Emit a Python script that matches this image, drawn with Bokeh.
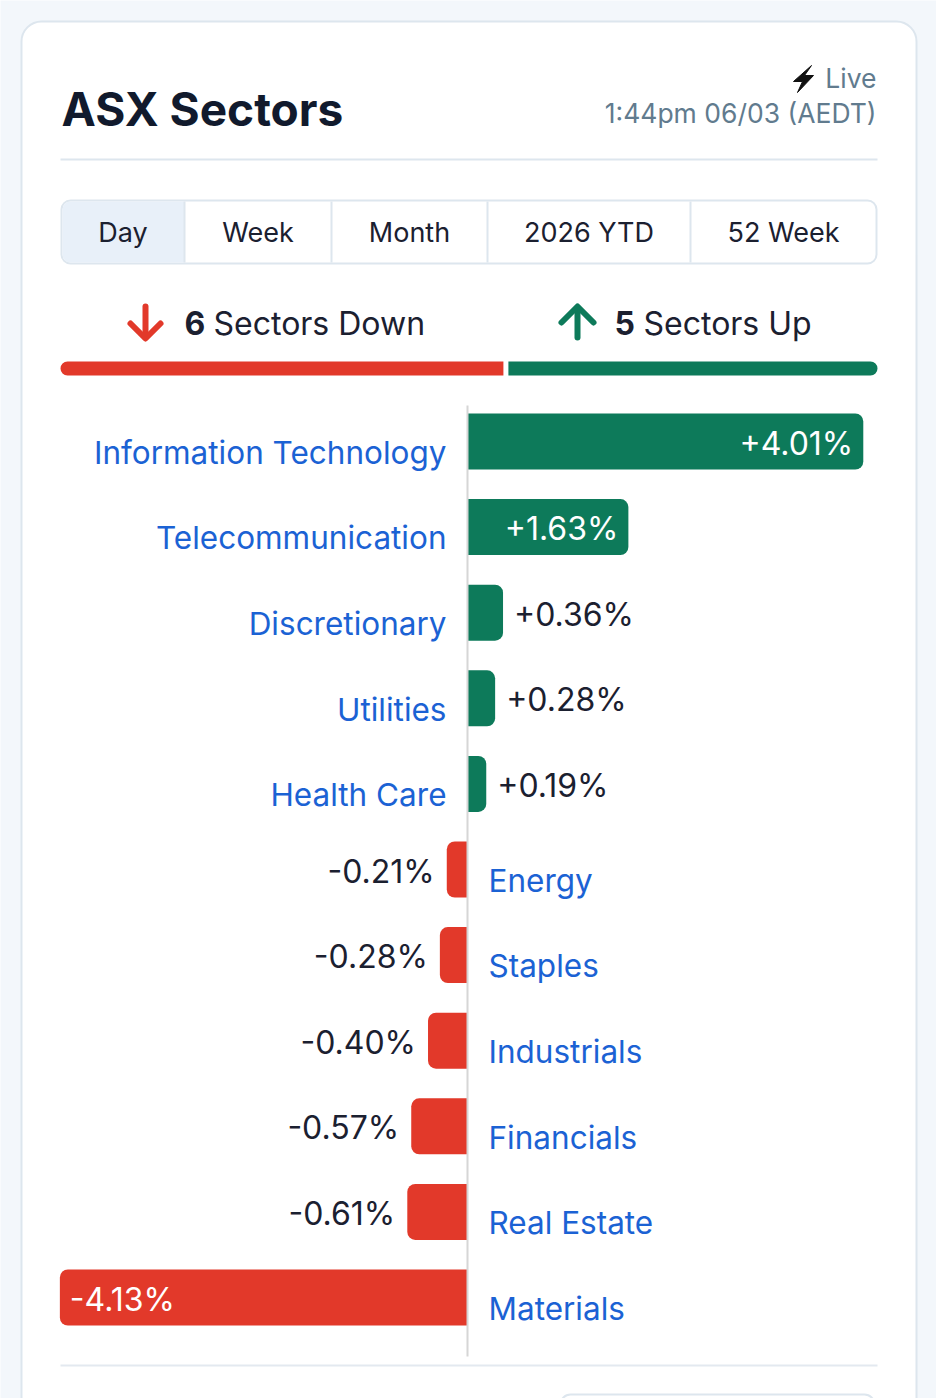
from bokeh.plotting import figure
from bokeh.models import Range1d, ColumnDataSource
from bokeh.embed import file_html
from bokeh.resources import INLINE
from bokeh.core.properties import value

# ---------------- data ----------------
title = "ASX Sectors"
live_label = "Live"
timestamp = "1:44pm 06/03 (AEDT)"
tabs = ["Day", "Week", "Month", "2026 YTD", "52 Week"]
active_tab = "Day"
sectors = ["Information Technology", "Telecommunication", "Discretionary",
           "Utilities", "Health Care", "Energy", "Staples", "Industrials",
           "Financials", "Real Estate", "Materials"]
changes = [4.01, 1.63, 0.36, 0.28, 0.19, -0.21, -0.28, -0.40, -0.57, -0.61, -4.13]

# ---------------- style ----------------
FONT = "Inter"
BG = "#f3f7fb"
BORDER = "#dde6ee"
GREEN = "#0d7a5a"
RED = "#e2392a"
BLUE = "#1b62d4"
DARK = "#1b2030"
TITLE_C = "#111a2d"
GREY = "#617b8e"
K = 0.42   # baseline correction (fraction of font size)

W, H = 936, 1398
p = figure(width=W, height=H, x_range=Range1d(0, W), y_range=Range1d(H, 0),
           output_backend="svg", toolbar_location=None, min_border=0,
           x_axis_location=None, y_axis_location=None,
           background_fill_color=BG, border_fill_color=BG, outline_line_color=None)
p.grid.visible = False


def txt(x, y, s, size, color, align="left", style="normal"):
    p.text(x=[x], y=[y - K * size], text=[s], text_font=value(FONT),
           text_font_size=f"{size}px", text_color=color, text_align=align,
           text_baseline="alphabetic", text_font_style=style)


# card
p.quad(left=21, right=916, top=21, bottom=1470, fill_color="white",
       line_color=BORDER, line_width=2, border_radius=20)

# header
txt(61, 128, title, 46, TITLE_C, style="bold")
p.patch(x=[811, 793, 802, 797, 813, 804], y=[65, 81, 81, 92, 75, 75],
        fill_color="#111111", line_color="#111111", line_width=1)
txt(876, 89, live_label, 26.5, GREY, align="right")
txt(876, 124, timestamp, 26.5, GREY, align="right")
p.segment(x0=[60], y0=[159], x1=[877], y1=[159], line_color=BORDER, line_width=2)

# tabs
tab_edges = [61, 184, 331, 487, 690, 876]
p.quad(left=61, right=876, top=200, bottom=263, fill_color="white",
       line_color=BORDER, line_width=2, border_radius=9)
ai = tabs.index(active_tab)
p.quad(left=tab_edges[ai] + 1, right=tab_edges[ai + 1], top=201, bottom=262,
       fill_color="#e8f0f9", line_color=None,
       border_radius=(8, 0, 0, 8) if ai == 0 else 0)
p.segment(x0=tab_edges[1:-1], x1=tab_edges[1:-1], y0=[201] * 4, y1=[262] * 4,
          line_color=BORDER, line_width=2)
for i, t in enumerate(tabs):
    txt((tab_edges[i] + tab_edges[i + 1]) / 2, 243, t, 27, DARK, align="center")

# up / down summary
n_down = sum(1 for v in changes if v < 0)
n_up = sum(1 for v in changes if v > 0)
p.multi_line(xs=[[145, 145], [130, 145, 160]], ys=[[306, 337], [323, 338, 323]],
             line_color=RED, line_width=6, line_cap="round", line_join="round")
p.multi_line(xs=[[577, 577], [561, 577, 593]], ys=[[337, 307], [322, 306, 322]],
             line_color=GREEN, line_width=6, line_cap="round", line_join="round")
txt(184, 336, str(n_down), 32, DARK, style="bold")
txt(213, 336, "Sectors Down", 32, DARK)
txt(614, 336, str(n_up), 32, DARK, style="bold")
txt(643, 336, "Sectors Up", 32, DARK)

bx0, bx1, gap = 60, 877, 5
red_r = bx0 + (bx1 - bx0 - gap) * n_down / (n_down + n_up)
p.quad(left=bx0, right=red_r, top=361, bottom=375, fill_color=RED, line_color=None,
       border_radius=(7, 0, 0, 7))
p.quad(left=red_r + gap, right=bx1, top=361, bottom=375, fill_color=GREEN,
       line_color=None, border_radius=(0, 7, 7, 0))

# ---------------- bars ----------------
scale = 98.7       # px per percent
zero_px = 467
row0, pitch = 441, 85.6
p.extra_x_ranges = {"pct": Range1d(-zero_px / scale, (W - zero_px) / scale)}
p.extra_y_ranges = {"row": Range1d((H - row0) / pitch, -row0 / pitch)}

rows = list(range(len(sectors)))
pos = ColumnDataSource(dict(row=[r for r, v in zip(rows, changes) if v > 0],
                            v=[v for v in changes if v > 0],
                            name=[s for s, v in zip(sectors, changes) if v > 0]))
neg = ColumnDataSource(dict(row=[r for r, v in zip(rows, changes) if v < 0],
                            v=[v for v in changes if v < 0],
                            name=[s for s, v in zip(sectors, changes) if v < 0]))
BH = 56 / pitch
p.hbar(y="row", height=BH, left=0, right="v", source=pos, fill_color=GREEN,
       line_color=None, border_radius=(0, 8, 8, 0), x_range_name="pct", y_range_name="row")
p.hbar(y="row", height=BH, left="v", right=0, source=neg, fill_color=RED,
       line_color=None, border_radius=(8, 0, 0, 8), x_range_name="pct", y_range_name="row")
p.segment(x0=[0], x1=[0], y0=[405], y1=[1356], line_color="#d6d6d6", line_width=2,
          x_range_name="pct")

# sector names
NAME_SIZE = 31.5
common = dict(text_font=value(FONT), text_font_size=f"{NAME_SIZE}px", text_color=BLUE,
              text_baseline="alphabetic", x_range_name="pct", y_range_name="row")
p.text(x=0, y="row", text="name", source=pos, x_offset=-21,
       y_offset=24 - K * NAME_SIZE, text_align="right", **common)
p.text(x=0, y="row", text="name", source=neg, x_offset=21,
       y_offset=24 - K * NAME_SIZE, text_align="left", **common)

# value labels
VAL_SIZE = 32
INSIDE = 1.0
groups = {}
for r, v in zip(rows, changes):
    inside = abs(v) >= INSIDE
    key = (v > 0, inside)
    groups.setdefault(key, dict(row=[], v=[], label=[]))
    groups[key]["row"].append(r)
    groups[key]["v"].append(v)
    groups[key]["label"].append(f"{v:+.2f}%")
for (is_pos, inside), d in groups.items():
    if is_pos:
        xo, al = (-10, "right") if inside else (11, "left")
    else:
        xo, al = (10, "left") if inside else (-12, "right")
    p.text(x="v", y="row", text="label", source=ColumnDataSource(d),
           x_offset=xo, y_offset=15 - K * VAL_SIZE, text_align=al,
           text_color="white" if inside else DARK,
           text_font=value(FONT), text_font_size=f"{VAL_SIZE}px",
           text_baseline="alphabetic", x_range_name="pct", y_range_name="row")

# footer
p.segment(x0=[60], y0=[1365], x1=[877], y1=[1365], line_color="#e3e9f0", line_width=2)
p.quad(left=560, right=874, top=1394, bottom=1450, fill_color="white",
       line_color=BORDER, line_width=2, border_radius=10)

open("out.html", "w").write(file_html(p, INLINE))
